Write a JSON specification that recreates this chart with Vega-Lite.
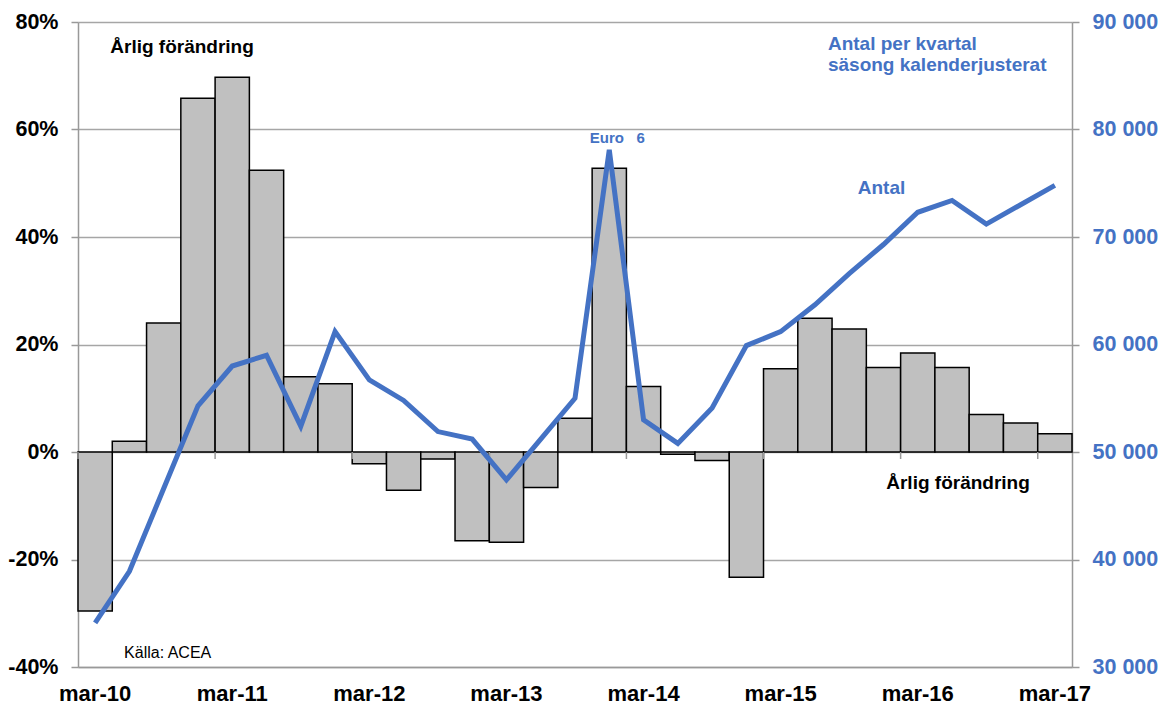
{
  "$schema": "https://vega.github.io/schema/vega-lite/v6.json",
  "width": 994,
  "height": 645,
  "autosize": {"type": "none"},
  "padding": {"left": 78, "top": 22, "right": 96, "bottom": 42},
  "background": "white",
  "config": {
    "view": {"stroke": null},
    "font": "Liberation Sans"
  },
  "datasets": {
    "main": [
      {"q": "mar-10", "pct": -29.6, "antal": 34100},
      {"q": "jun-10", "pct": 2.0, "antal": 38900},
      {"q": "sep-10", "pct": 24.0, "antal": 46600},
      {"q": "dec-10", "pct": 65.8, "antal": 54300},
      {"q": "mar-11", "pct": 69.7, "antal": 58000},
      {"q": "jun-11", "pct": 52.4, "antal": 59000},
      {"q": "sep-11", "pct": 14.0, "antal": 52400},
      {"q": "dec-11", "pct": 12.7, "antal": 61200},
      {"q": "mar-12", "pct": -2.2, "antal": 56700},
      {"q": "jun-12", "pct": -7.1, "antal": 54800},
      {"q": "sep-12", "pct": -1.3, "antal": 51900},
      {"q": "dec-12", "pct": -16.5, "antal": 51200},
      {"q": "mar-13", "pct": -16.8, "antal": 47400},
      {"q": "jun-13", "pct": -6.6, "antal": 51200},
      {"q": "sep-13", "pct": 6.3, "antal": 55000},
      {"q": "dec-13", "pct": 52.8, "antal": 78100},
      {"q": "mar-14", "pct": 12.2, "antal": 53000},
      {"q": "jun-14", "pct": -0.4, "antal": 50800},
      {"q": "sep-14", "pct": -1.6, "antal": 54100},
      {"q": "dec-14", "pct": -23.3, "antal": 59900},
      {"q": "mar-15", "pct": 15.5, "antal": 61200},
      {"q": "jun-15", "pct": 24.9, "antal": 63700},
      {"q": "sep-15", "pct": 22.9, "antal": 66600},
      {"q": "dec-15", "pct": 15.7, "antal": 69300},
      {"q": "mar-16", "pct": 18.4, "antal": 72300},
      {"q": "jun-16", "pct": 15.7, "antal": 73400},
      {"q": "sep-16", "pct": 7.0, "antal": 71200},
      {"q": "dec-16", "pct": 5.4, "antal": 73000},
      {"q": "mar-17", "pct": 3.4, "antal": 74800}
    ],
    "yearTicks": [
      {"q": "mar-10"}, {"q": "mar-11"}, {"q": "mar-12"}, {"q": "mar-13"},
      {"q": "mar-14"}, {"q": "mar-15"}, {"q": "mar-16"}, {"q": "mar-17"}
    ],
    "notesBlack": [
      {"q": "jun-10", "pct": 74.3, "label": "Årlig förändring", "kind": "left"},
      {"q": "jun-16", "pct": -6.8, "label": "Årlig förändring", "kind": "center"},
      {"q": "sep-10", "pct": -38.4, "label": "Källa: ACEA", "kind": "source"}
    ],
    "notesBlue": [
      {"q": "jun-15", "antal": 87440, "label": "Antal per kvartal\nsäsong kalenderjusterat", "kind": "title"},
      {"q": "dec-15", "antal": 74000, "label": "Antal", "kind": "antal"},
      {"q": "dec-13", "antal": 78750, "label": "Euro\u00a0\u00a0\u00a06", "kind": "euro"}
    ]
  },
  "resolve": {"scale": {"y": "independent"}},
  "layer": [
    {
      "layer": [
        {
          "data": {"name": "main"},
          "mark": {"type": "bar", "fill": "#C0C0C0", "stroke": "#000000", "strokeWidth": 1.5},
          "encoding": {
            "x": {
              "field": "q", "type": "ordinal", "sort": null, "title": null,
              "scale": {"domain": ["mar-10","jun-10","sep-10","dec-10","mar-11","jun-11","sep-11","dec-11","mar-12","jun-12","sep-12","dec-12","mar-13","jun-13","sep-13","dec-13","mar-14","jun-14","sep-14","dec-14","mar-15","jun-15","sep-15","dec-15","mar-16","jun-16","sep-16","dec-16","mar-17"], "paddingInner": 0, "paddingOuter": 0},
              "axis": {
                "orient": "bottom",
                "values": ["mar-10","mar-11","mar-12","mar-13","mar-14","mar-15","mar-16","mar-17"],
                "labelAngle": 0, "labelFontSize": 22, "labelColor": "#000000",
                "labelFont": "Liberation Sans", "labelFontWeight": "bold",
                "ticks": false, "labelPadding": 16,
                "domainColor": "#999999", "domainWidth": 1.5, "grid": false
              }
            },
            "y": {
              "field": "pct", "type": "quantitative", "title": null,
              "scale": {"domain": [-40, 80], "nice": false, "zero": false},
              "axis": {
                "orient": "left",
                "values": [-40, -20, 0, 20, 40, 60, 80],
                "labelExpr": "datum.value + '%'",
                "labelFont": "Liberation Sans", "labelFontWeight": "bold",
                "labelFontSize": 21.5, "labelColor": "#000000",
                "tickColor": "#999999", "tickSize": 7, "tickWidth": 1.5,
                "domainColor": "#999999", "domainWidth": 1.5,
                "grid": true, "gridColor": "#A6A6A6", "gridWidth": 1.5,
                "labelPadding": 13
              }
            }
          }
        },
        {
          "data": {"name": "yearTicks"},
          "mark": {"type": "rule", "color": "#999999", "strokeWidth": 1.5},
          "encoding": {
            "x": {"field": "q", "type": "ordinal", "bandPosition": 0, "title": null},
            "y": {"datum": 0, "type": "quantitative"},
            "y2": {"datum": -1.3}
          }
        },
        {
          "data": {"name": "notesBlack"},
          "transform": [{"filter": "datum.kind === 'left'"}],
          "mark": {"type": "text", "align": "left", "baseline": "alphabetic", "fontWeight": "bold", "fontSize": 19, "color": "#000000", "dx": -2},
          "encoding": {
            "x": {"field": "q", "type": "ordinal", "bandPosition": 0, "title": null},
            "y": {"field": "pct", "type": "quantitative", "title": null},
            "text": {"field": "label"}
          }
        },
        {
          "data": {"name": "notesBlack"},
          "transform": [{"filter": "datum.kind === 'center'"}],
          "mark": {"type": "text", "align": "center", "baseline": "alphabetic", "fontWeight": "bold", "fontSize": 19, "color": "#000000", "dx": 6},
          "encoding": {
            "x": {"field": "q", "type": "ordinal", "title": null},
            "y": {"field": "pct", "type": "quantitative", "title": null},
            "text": {"field": "label"}
          }
        },
        {
          "data": {"name": "notesBlack"},
          "transform": [{"filter": "datum.kind === 'source'"}],
          "mark": {"type": "text", "align": "center", "baseline": "alphabetic", "fontWeight": "normal", "fontSize": 16, "color": "#000000", "dx": 4},
          "encoding": {
            "x": {"field": "q", "type": "ordinal", "title": null},
            "y": {"field": "pct", "type": "quantitative", "title": null},
            "text": {"field": "label"}
          }
        }
      ]
    },
    {
      "layer": [
        {
          "data": {"name": "main"},
          "mark": {"type": "line", "color": "#4472C4", "strokeWidth": 5},
          "encoding": {
            "x": {"field": "q", "type": "ordinal", "title": null},
            "y": {
              "field": "antal", "type": "quantitative", "title": null,
              "scale": {"domain": [30000, 90000], "nice": false, "zero": false},
              "axis": {
                "orient": "right",
                "values": [30000, 40000, 50000, 60000, 70000, 80000, 90000],
                "labelExpr": "replace(format(datum.value, ','), ',', ' ')",
                "labelFont": "Liberation Sans", "labelFontWeight": "bold",
                "labelFontSize": 21.5, "labelColor": "#4472C4",
                "tickColor": "#999999", "tickSize": 7, "tickWidth": 1.5,
                "domainColor": "#999999", "domainWidth": 1.5,
                "grid": false, "labelPadding": 13
              }
            }
          }
        },
        {
          "data": {"name": "notesBlue"},
          "transform": [{"filter": "datum.kind === 'title'"}],
          "mark": {"type": "text", "align": "left", "baseline": "alphabetic", "fontWeight": "bold", "fontSize": 19, "color": "#4472C4", "dx": 13, "lineBreak": "\n", "lineHeight": 21},
          "encoding": {
            "x": {"field": "q", "type": "ordinal", "title": null},
            "y": {"field": "antal", "type": "quantitative", "title": null},
            "text": {"field": "label"}
          }
        },
        {
          "data": {"name": "notesBlue"},
          "transform": [{"filter": "datum.kind === 'antal'"}],
          "mark": {"type": "text", "align": "center", "baseline": "alphabetic", "fontWeight": "bold", "fontSize": 19, "color": "#4472C4", "dx": -2},
          "encoding": {
            "x": {"field": "q", "type": "ordinal", "title": null},
            "y": {"field": "antal", "type": "quantitative", "title": null},
            "text": {"field": "label"}
          }
        },
        {
          "data": {"name": "notesBlue"},
          "transform": [{"filter": "datum.kind === 'euro'"}],
          "mark": {"type": "text", "align": "center", "baseline": "alphabetic", "fontWeight": "bold", "fontSize": 15, "color": "#4472C4", "dx": 8},
          "encoding": {
            "x": {"field": "q", "type": "ordinal", "title": null},
            "y": {"field": "antal", "type": "quantitative", "title": null},
            "text": {"field": "label"}
          }
        }
      ]
    }
  ]
}
